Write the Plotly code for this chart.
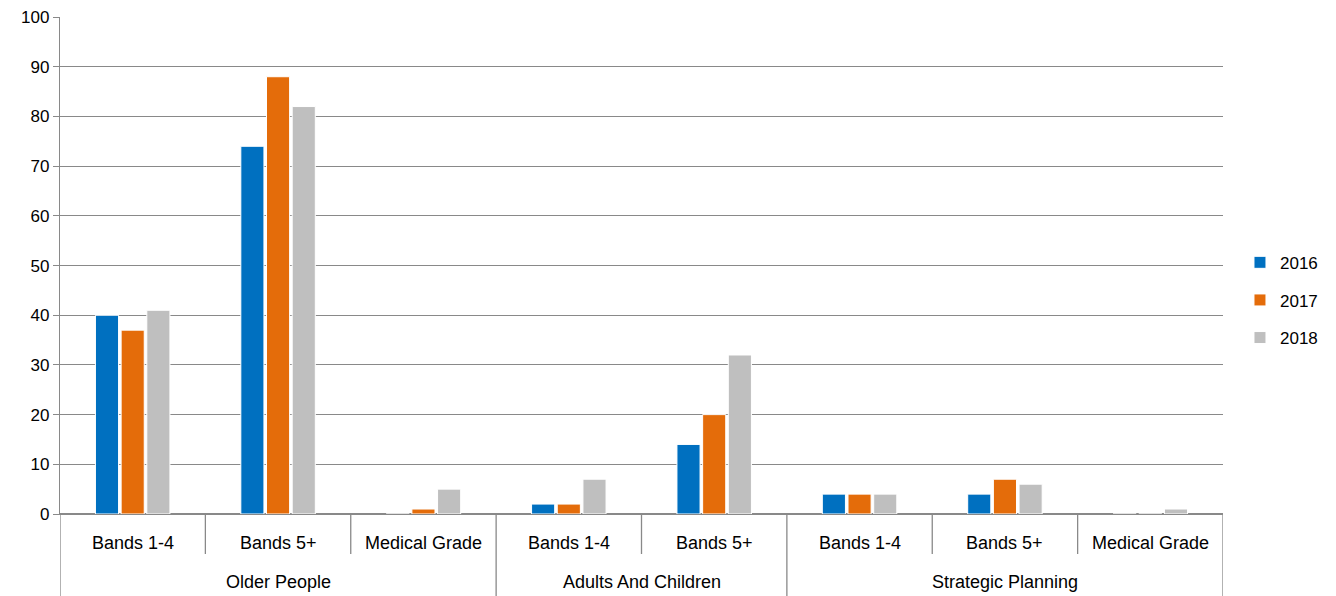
import plotly.graph_objects as go

groups = ["Older People", "Older People", "Older People",
          "Adults And Children", "Adults And Children",
          "Strategic Planning", "Strategic Planning", "Strategic Planning"]
subcats = ["Bands 1-4", "Bands 5+", "Medical Grade",
           "Bands 1-4", "Bands 5+",
           "Bands 1-4", "Bands 5+", "Medical Grade"]
series_names = ["2016", "2017", "2018"]
v2016 = [40, 74, 0, 2, 14, 4, 4, 0]
v2017 = [37, 88, 1, 2, 20, 4, 7, 0]
v2018 = [41, 82, 5, 7, 32, 4, 6, 1]
colors = ["#0070C0", "#E46C0A", "#BFBFBF"]

# page has an 8px body margin; size the figure to fill the rest of the window
W, H = 1328, 588
ML, MR, MT, MB = 52, 113, 9, 82
plot_h = H - MT - MB
GRAY = "#898989"

fig = go.Figure()
for name, vals, col in zip(series_names, [v2016, v2017, v2018], colors):
    fig.add_trace(go.Bar(x=[groups, subcats], y=vals, name=name, legendgroup=name,
                         marker=dict(color=col, line=dict(color="white", width=1))))

n = len(subcats)
for i, s in enumerate(subcats):
    fig.add_annotation(x=i, y=0, xref="x", yref="paper", text=s, showarrow=False,
                       yanchor="middle", yshift=-29, font=dict(size=18))
spans = []
start = 0
for i in range(1, n + 1):
    if i == n or groups[i] != groups[start]:
        spans.append((groups[start], start, i - 1))
        start = i
for g, a, b in spans:
    fig.add_annotation(x=(a + b) / 2, y=0, xref="x", yref="paper", text=g, showarrow=False,
                       yanchor="middle", yshift=-68, font=dict(size=18))
group_bounds = set()
for g, a, b in spans:
    group_bounds.add(a - 0.5)
    group_bounds.add(b + 0.5)
for k in range(n + 1):
    xb = k - 0.5
    depth = (MB if xb in group_bounds else 40) / plot_h
    fig.add_shape(type="line", xref="x", yref="paper", x0=xb, x1=xb, y0=0, y1=-depth,
                  line=dict(color=GRAY, width=1.3))

fig.update_layout(
    width=W, height=H,
    margin=dict(l=ML, r=MR, t=MT, b=MB, autoexpand=False),
    plot_bgcolor="white", paper_bgcolor="white",
    barmode="group", bargap=0.47, bargroupgap=0.1,
    font=dict(family="Liberation Sans", size=17, color="#000000"),
    legend=dict(x=1.0146, y=0.43, yanchor="middle", xanchor="left",
                font=dict(size=17), itemwidth=30, tracegroupgap=12.5),
    showlegend=True,
)
fig.update_xaxes(type="multicategory", showline=True, linecolor=GRAY, linewidth=1.3,
                 showticklabels=False, ticks="", showdividers=False, automargin=False,
                 range=[-0.5, n - 0.5])
fig.update_yaxes(range=[0, 100.02], dtick=10, showgrid=True, gridcolor=GRAY, gridwidth=1,
                 showline=True, linecolor=GRAY, linewidth=1.3, ticks="outside", ticklen=6,
                 tickcolor=GRAY, zeroline=True, zerolinecolor=GRAY, automargin=False,
                 ticklabeloverflow="allow", tickfont=dict(size=17))

fig.write_html("out.html")
